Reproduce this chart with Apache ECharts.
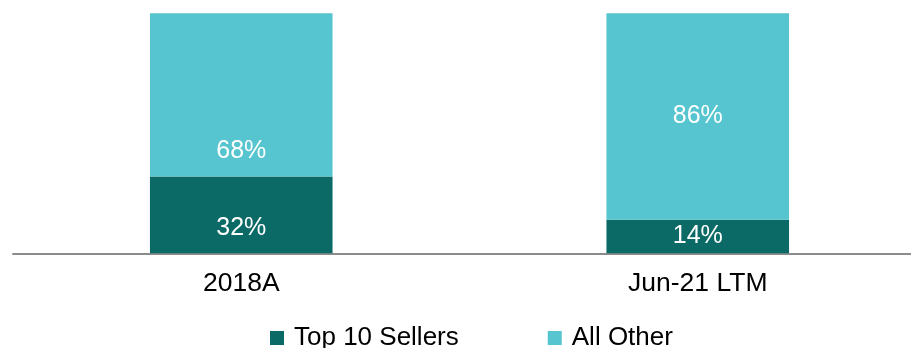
<!DOCTYPE html>
<html><head><meta charset="utf-8">
<script src="https://cdn.jsdelivr.net/npm/echarts@6/dist/echarts.min.js"></script>
<style>html,body{margin:0;padding:0;background:#fff;overflow:hidden;width:911px;height:348px}#c{width:926px;height:348px}</style>
</head><body><div id="c"></div>
<script>
var categories = ['2018A', 'Jun-21 LTM'];
var topSellers = [32, 14];
var allOther = [68, 86];
var seriesNames = ['Top 10 Sellers', 'All Other'];
var labelOffsetTop = [13, 0];
var labelOffsetOther = [56, 0];

var chart = echarts.init(document.getElementById('c'), null, {renderer: 'canvas'});
var font = '"Liberation Sans", Arial, sans-serif';
function mk(vals, offs) {
  return vals.map(function (v, i) {
    return {value: v, label: {offset: [0, offs[i]]}};
  });
}
chart.setOption({
  animation: false,
  grid: {left: 13, top: 13.3, bottom: 94.7, right: 0, containLabel: false},
  legend: {
    left: 265, top: 320, itemWidth: 14, itemHeight: 14, itemGap: 89,
    icon: 'rect',
    textStyle: {fontFamily: font, fontSize: 26, color: '#000', padding: [0, 0, 0, 5]},
    data: seriesNames
  },
  xAxis: {
    type: 'category', data: categories,
    axisLine: {lineStyle: {color: '#8c8c8c', width: 2}},
    axisTick: {show: false},
    axisLabel: {fontFamily: font, fontSize: 26.5, color: '#000', margin: 17}
  },
  yAxis: {type: 'value', min: 0, max: 100, show: false, splitLine: {show: false}},
  series: [
    {name: seriesNames[0], type: 'bar', stack: 's', barWidth: '40%',
     itemStyle: {color: '#0C6A66'},
     label: {show: true, position: 'inside', color: '#fff', fontFamily: font, fontSize: 25, formatter: '{c}%'},
     data: mk(topSellers, labelOffsetTop)},
    {name: seriesNames[1], type: 'bar', stack: 's', barWidth: '40%',
     itemStyle: {color: '#56C5CF'},
     label: {show: true, position: 'inside', color: '#fff', fontFamily: font, fontSize: 25, formatter: '{c}%'},
     data: mk(allOther, labelOffsetOther)}
  ]
});
</script></body></html>
